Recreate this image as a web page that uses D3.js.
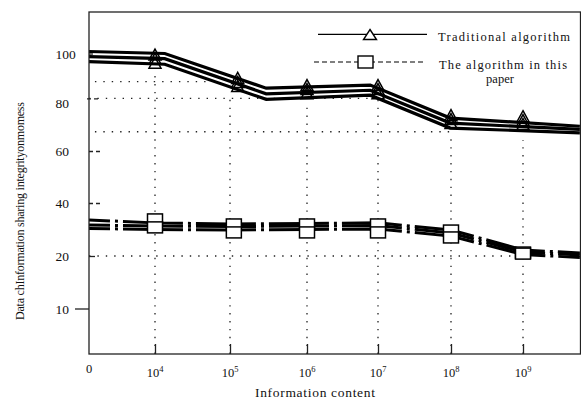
<!DOCTYPE html>
<html>
<head>
<meta charset="utf-8">
<script src="https://cdn.jsdelivr.net/npm/d3@7"></script>
<style>
  body { margin: 0; background: #fff; }
  svg { display: block; font-family: "Liberation Serif", "Times New Roman", serif; }
</style>
</head>
<body>
<svg width="581" height="399"></svg>
<script>
// x is the exponent of the information content (0 = origin)
const xTicks = [0, 4, 5, 6, 7, 8, 9];
const yTicks = [10, 20, 40, 60, 80, 100];

// traditional algorithm: three traced strands
const tradX = [0, 4.13, 5.47, 6.89, 7.99, 9.79];
const tradTop = [100.9, 100.0, 84.5, 85.9, 72.5, 69.4];
const tradMid = [98.6, 97.7, 82.0, 83.6, 70.6, 68.2];
const tradLow = [96.4, 95.2, 79.6, 81.4, 68.7, 66.9];

// stacked triangle markers
const tradMarkX = [4, 5.1, 6, 7, 8, 9];
const tradMarkTop = [99.5, 89.1, 85.9, 85.9, 73.6, 73.2];
const tradMarkMid = [97.7, 87.3, 84.1, 84.1, 72.1, 71.7];
const tradMarkLow = [95.9, 85.5, 82.3, 82.3, 70.6, 70.2];

// algorithm in this paper: three traced strands
const paperX = [0, 4, 5, 6, 7, 8, 9, 9.79];
const paperTop = [33.6, 32.5, 32.1, 32.3, 32.5, 29.8, 22.3, 21.1];
const paperMid = [31.7, 31.3, 31.1, 31.3, 31.5, 28.7, 21.5, 20.4];
const paperLow = [30.4, 30.0, 29.8, 30.0, 30.2, 27.5, 20.6, 19.7];

// stacked square markers
const paperMarkX = [4, 5.05, 6, 7, 8, 9];
const paperMarkTop = [33.8, 31.9, 31.9, 31.9, 29.6, 21.3];
const paperMarkLow = [30.8, 28.9, 28.9, 28.9, 27.0, 20.9];

// dotted guide lines: [value, xFrom, xTo] and [x, valueTop]
const hGuides = [[87.4, 0.36, 4.73], [80, 0, 6.89], [67.3, 0.36, 7.99], [20, 0, 8.9]];
const vGuides = [[4, 91.8], [5, 81.4], [6, 78.1], [7, 80.5], [8, 65.3], [9, 64.2]];

const legendLabels = ["Traditional algorithm", "The algorithm in this", "paper"];

const svg = d3.select("svg");
const frameL = 89, frameT = 12, frameR = 580.5, frameB = 354;

const x = d3.scaleLinear()
    .domain([0, 4, 5, 6, 7, 8, 9, 10])
    .range([89, 155, 230, 307, 378, 451, 523, 595]);
const y = d3.scaleLinear()
    .domain(yTicks)
    .range([308.5, 256, 203, 151, 98.3, 53.5]);

svg.append("clipPath").attr("id", "plot")
    .append("rect")
    .attr("x", frameL).attr("y", frameT)
    .attr("width", frameR - frameL).attr("height", frameB - frameT);

const plot = svg.append("g").attr("clip-path", "url(#plot)");

// guides
plot.selectAll(".hg")
    .data(hGuides)
    .join("line")
    .attr("x1", d => x(d[1])).attr("x2", d => x(d[2]))
    .attr("y1", d => y(d[0])).attr("y2", d => y(d[0]))
    .attr("stroke", "#222").attr("stroke-width", 1.3)
    .attr("stroke-dasharray", "1.4,7");

plot.selectAll(".vg")
    .data(vGuides)
    .join("line")
    .attr("x1", d => x(d[0])).attr("x2", d => x(d[0]))
    .attr("y1", frameB).attr("y2", d => y(d[1]))
    .attr("stroke", "#222").attr("stroke-width", 1.3)
    .attr("stroke-dasharray", "1.4,6.5");

const line = d3.line().x(d => x(d[0])).y(d => y(d[1]));

// paper strands (dash-dot)
[paperTop, paperMid, paperLow].forEach(vals => {
    plot.append("path")
        .attr("d", line(d3.zip(paperX, vals)))
        .attr("fill", "none")
        .attr("stroke", "#000")
        .attr("stroke-width", 3)
        .attr("stroke-dasharray", "60,5,3,5")
        .attr("stroke-dashoffset", 39);
});

[paperMarkTop, paperMarkLow].forEach(vals => {
    plot.selectAll(null)
        .data(d3.zip(paperMarkX, vals))
        .join("rect")
        .attr("x", d => x(d[0]) - 7.5)
        .attr("y", d => y(d[1]) - 5.5)
        .attr("width", 15).attr("height", 11)
        .attr("fill", "#fff")
        .attr("stroke", "#000").attr("stroke-width", 1.5);
});

// traditional strands
[tradTop, tradMid, tradLow].forEach(vals => {
    plot.append("path")
        .attr("d", line(d3.zip(tradX, vals)))
        .attr("fill", "none")
        .attr("stroke", "#000")
        .attr("stroke-width", 3.2);
});

const tri = (cx, cy, w, h) =>
    `M${cx},${cy - h / 2}L${cx + w / 2},${cy + h / 2}L${cx - w / 2},${cy + h / 2}Z`;

[tradMarkTop, tradMarkMid, tradMarkLow].forEach(vals => {
    plot.selectAll(null)
        .data(d3.zip(tradMarkX, vals))
        .join("path")
        .attr("d", d => tri(x(d[0]), y(d[1]), 12, 11))
        .attr("fill", "none")
        .attr("stroke", "#000").attr("stroke-width", 1.5);
});

// frame
svg.append("rect")
    .attr("x", frameL).attr("y", frameT)
    .attr("width", frameR - frameL).attr("height", frameB - frameT)
    .attr("fill", "none").attr("stroke", "#222").attr("stroke-width", 1.3);

// y axis
const yAxis = svg.append("g")
    .attr("transform", `translate(${frameL},0)`)
    .call(d3.axisLeft(y).tickValues(yTicks).tickSizeInner(-12).tickSizeOuter(0))
    .attr("font-family", null)
    .attr("font-size", 13.5);
yAxis.select(".domain").remove();
yAxis.selectAll(".tick line")
    .attr("stroke", "#222").attr("stroke-width", 1.3)
    .attr("stroke-dasharray", d => (d === 10 || d === 100 || d === 20) ? null : "4,3")
    .attr("x1", d => d === 80 ? -2 : 0)
    .attr("x2", d => d === 10 ? -14 : d === 100 ? 4 : d === 20 ? 6 : 12);
yAxis.selectAll(".tick text")
    .attr("x", -33.5)
    .attr("text-anchor", "start")
    .attr("dy", d => d === 80 ? "0.7em" : "0.35em")
    .attr("fill", "#111");

// x axis ticks and labels
const xAxis = svg.append("g")
    .attr("transform", `translate(0,${frameB})`)
    .call(d3.axisBottom(x).tickValues(xTicks.slice(1)).tickSizeInner(-10).tickSizeOuter(0).tickFormat(""));
xAxis.select(".domain").remove();
xAxis.selectAll(".tick line").attr("stroke", "#222").attr("stroke-width", 1.3);

const xLab = svg.append("g")
    .attr("font-size", 12.5)
    .attr("fill", "#111");
xLab.selectAll("text")
    .data(xTicks)
    .join("text")
    .attr("x", d => x(d))
    .attr("y", d => d === 0 ? 373 : 377)
    .attr("text-anchor", "middle")
    .each(function (d) {
        const t = d3.select(this);
        if (d === 0) { t.text("0"); return; }
        t.append("tspan").text("10");
        t.append("tspan").attr("font-size", 8.5).attr("dy", -5).text(d);
    });

svg.append("text")
    .attr("x", 315).attr("y", 397)
    .attr("text-anchor", "middle")
    .attr("font-size", 13.5)
    .attr("textLength", 120)
    .attr("fill", "#111")
    .text("Information content");

svg.append("text")
    .attr("transform", "translate(20,211) rotate(-90)")
    .attr("text-anchor", "middle")
    .attr("dominant-baseline", "central")
    .attr("font-size", 12)
    .attr("textLength", 218)
    .attr("fill", "#111")
    .text("Data chInformation sharing integrityonmomess");

// legend
const lg = svg.append("g").attr("fill", "#111").attr("font-size", 12.5);
lg.append("line")
    .attr("x1", 318).attr("x2", 427).attr("y1", 34.3).attr("y2", 34.3)
    .attr("stroke", "#000").attr("stroke-width", 1.2);
lg.append("path")
    .attr("d", tri(370, 34.5, 13, 10))
    .attr("fill", "#fff").attr("stroke", "#000").attr("stroke-width", 1.4);
lg.append("line")
    .attr("x1", 314).attr("x2", 423).attr("y1", 62).attr("y2", 62)
    .attr("stroke", "#555").attr("stroke-width", 1.5)
    .attr("stroke-dasharray", "5,3");
lg.append("rect")
    .attr("x", 358).attr("y", 56).attr("width", 15).attr("height", 12)
    .attr("fill", "#fff").attr("stroke", "#000").attr("stroke-width", 1.4);

lg.append("text").attr("x", 438).attr("y", 41).attr("textLength", 132).text(legendLabels[0]);
lg.append("text").attr("x", 439).attr("y", 69).attr("textLength", 128).text(legendLabels[1]);
lg.append("text").attr("x", 500).attr("y", 83).attr("text-anchor", "middle").text(legendLabels[2]);
</script>
</body>
</html>
